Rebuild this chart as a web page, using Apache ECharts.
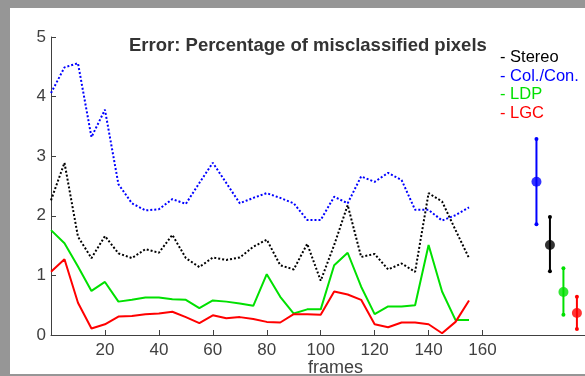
<!DOCTYPE html>
<html>
<head>
<meta charset="utf-8">
<script src="https://cdn.jsdelivr.net/npm/echarts@6/dist/echarts.min.js"></script>
<style>
  html, body { margin: 0; padding: 0; background: #969696; }
  #frame { position: absolute; left: 10px; top: 8px; width: 575px; height: 366px; background: #fff; }
  #chart { position: absolute; left: 0; top: 0; width: 585px; height: 376px; }
</style>
</head>
<body>
<div id="frame"></div>
<div id="chart"></div>
<script>
const frames = [0, 5, 10, 15, 20, 25, 30, 35, 40, 45, 50, 55, 60, 65, 70, 75,
  80, 85, 90, 95, 100, 105, 110, 115, 120, 125, 130, 135, 140, 145, 150, 155];

const stereo = [2.26, 2.89, 1.65, 1.29, 1.66, 1.37, 1.29, 1.44, 1.38, 1.68, 1.29, 1.14, 1.30, 1.26, 1.30, 1.48,
  1.60, 1.17, 1.10, 1.53, 0.91, 1.51, 2.18, 1.31, 1.36, 1.10, 1.20, 1.06, 2.38, 2.24, 1.76, 1.29];
const colCon = [4.06, 4.49, 4.56, 3.32, 3.78, 2.53, 2.21, 2.09, 2.11, 2.28, 2.20, 2.55, 2.89, 2.55, 2.21, 2.30,
  2.38, 2.30, 2.21, 1.93, 1.93, 2.32, 2.21, 2.66, 2.57, 2.72, 2.60, 2.10, 2.10, 1.92, 2.01, 2.14];
const ldp = [1.76, 1.54, 1.15, 0.74, 0.89, 0.56, 0.59, 0.63, 0.63, 0.60, 0.59, 0.45, 0.58, 0.56, 0.53, 0.49,
  1.02, 0.64, 0.36, 0.43, 0.43, 1.17, 1.38, 0.81, 0.35, 0.48, 0.48, 0.50, 1.51, 0.73, 0.25, 0.25];
const lgc = [1.06, 1.27, 0.54, 0.11, 0.18, 0.31, 0.32, 0.35, 0.36, 0.39, 0.30, 0.20, 0.33, 0.28, 0.30, 0.27,
  0.22, 0.21, 0.35, 0.35, 0.34, 0.73, 0.68, 0.59, 0.18, 0.13, 0.21, 0.21, 0.18, 0.03, 0.22, 0.58];

// summary (mean with min/max) drawn at the right
const methods = ['Stereo', 'Col./Con.', 'LDP', 'LGC'];
const summaryX = [185, 180, 190, 195];
const summaryMean = [1.51, 2.57, 0.72, 0.37];
const summaryLow = [1.07, 1.86, 0.34, 0.10];
const summaryHigh = [1.98, 3.29, 1.12, 0.64];

const xTicks = [20, 40, 60, 80, 100, 120, 140, 160];

const colors = ['#000000', '#0000ff', '#00e000', '#ff0000'];
const lineTypes = ['dotted', 'dotted', 'solid', 'solid'];
const seriesValues = [stereo, colCon, ldp, lgc];

const chart = echarts.init(document.getElementById('chart'), null, { renderer: 'canvas' });

const series = [];
methods.forEach((name, i) => {
  series.push({
    name: name,
    type: 'line',
    data: frames.map((f, k) => [f, seriesValues[i][k]]),
    showSymbol: false,
    symbol: 'none',
    lineStyle: { color: colors[i], width: 2, type: lineTypes[i] },
    itemStyle: { color: colors[i] },
    animation: false,
    z: 2
  });
});
methods.forEach((name, i) => {
  series.push({
    name: name,
    type: 'line',
    data: [[summaryX[i], summaryLow[i]], [summaryX[i], summaryHigh[i]]],
    symbol: 'circle',
    symbolSize: 4,
    lineStyle: { color: colors[i], width: 2 },
    itemStyle: { color: colors[i] },
    animation: false,
    z: 3
  });
  series.push({
    name: name,
    type: 'scatter',
    data: [[summaryX[i], summaryMean[i]]],
    symbolSize: 10,
    itemStyle: { color: colors[i] },
    animation: false,
    z: 4
  });
});

const option = {
  backgroundColor: 'transparent',
  textStyle: { fontFamily: 'Liberation Sans, Arial, sans-serif' },
  title: [
    {
      text: 'Error: Percentage of misclassified pixels',
      left: 124,
      top: 31,
      textStyle: { fontSize: 18.5, fontWeight: 'bold', color: '#333333', fontFamily: 'Liberation Sans' }
    },
    {
      text: 'frames',
      left: 303,
      top: 354,
      textStyle: { fontSize: 18, fontWeight: 'normal', color: '#404040', fontFamily: 'Liberation Sans' }
    }
  ],
  legend: {
    orient: 'vertical',
    left: 490,
    top: 44,
    icon: 'none',
    itemWidth: 0,
    itemHeight: 14,
    itemGap: 1.5,
    selectedMode: false,
    formatter: '- {name}',
    data: methods.map((name, i) => ({
      name: name,
      textStyle: { color: colors[i], fontSize: 16.5, fontFamily: 'Liberation Sans', lineHeight: 16 }
    }))
  },
  grid: { left: 51, top: 37, width: 534, bottom: 41, containLabel: false },
  xAxis: {
    type: 'value',
    min: 0,
    max: 198,
    interval: 20,
    axisLine: { lineStyle: { color: '#404040', width: 1 } },
    axisTick: { inside: true, length: 5, customValues: xTicks, lineStyle: { color: '#404040' } },
    axisLabel: { customValues: xTicks, color: '#404040', fontSize: 17, margin: 7, fontFamily: 'Liberation Sans' },
    splitLine: { show: false }
  },
  yAxis: {
    type: 'value',
    min: 0,
    max: 5,
    interval: 1,
    axisLine: { show: true, lineStyle: { color: '#404040', width: 1 } },
    axisTick: { show: true, inside: true, length: 5, lineStyle: { color: '#404040' } },
    axisLabel: { color: '#404040', fontSize: 17, margin: 5, fontFamily: 'Liberation Sans' },
    splitLine: { show: false }
  },
  series: series
};

chart.setOption(option);
</script>
</body>
</html>
